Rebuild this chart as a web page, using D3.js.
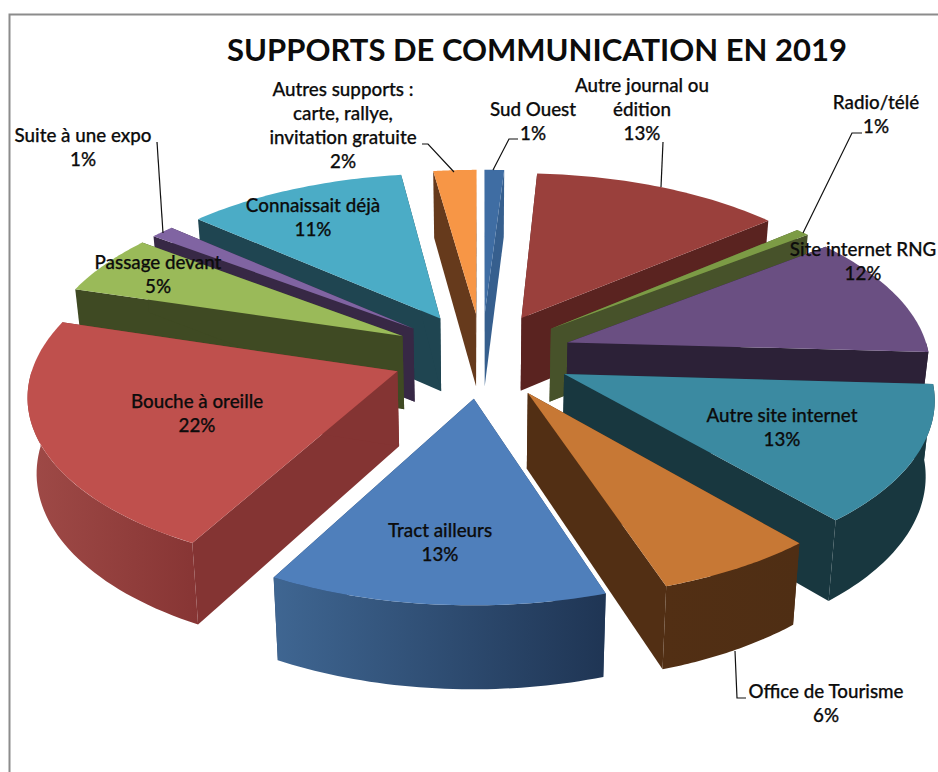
<!DOCTYPE html>
<html>
<head>
<meta charset="utf-8">
<script src="https://cdnjs.cloudflare.com/ajax/libs/d3/7.8.5/d3.min.js"></script>
<style>
  html, body { margin: 0; padding: 0; background: #fff; }
  svg { display: block; }
  text { font-family: Lato, "Open Sans", sans-serif; fill: #0c0c0c; }
</style>
</head>
<body>
<svg width="938" height="772"></svg>
<script>
// data, clockwise from the top
var categories = ['Sud Ouest', 'Autre journal ou édition', 'Radio/télé', 'Site internet RNG',
  'Autre site internet', 'Office de Tourisme', 'Tract ailleurs', 'Bouche à oreille',
  'Passage devant', 'Suite à une expo', 'Connaissait déjà', 'Autres supports']
// share of the circle
var shares = [1, 12.8, 0.7, 11.4, 12.8, 6.2, 13, 21.8, 5.6, 1.2, 11.3, 2.2]
// percentages as printed on the labels
var printed = ['1%', '13%', '1%', '12%', '13%', '6%', '13%', '22%', '5%', '1%', '11%', '2%']

// colours
var topColors = ['#3f6da3', '#9a403c', '#7c9b45', '#6a4f82', '#3b8aa1', '#c77835',
  '#4f7fbb', '#bf504d', '#9aba59', '#8064a2', '#4bacc6', '#f79646']
var sideColors = ['#365f8e', '#5a2320', '#47522a', '#2c2137', '#18373f', '#522f14',
  '#2b4569', '#843433', '#3f4a23', '#372845', '#1f4551', '#663a1c']
var wallLeft = ['#365f8e', '#5a2320', '#47522a', '#2c2137', '#18373f', '#522f14',
  '#3f6692', '#9f4a47', '#3f4a23', '#372845', '#1f4551', '#663a1c']
var wallRight = ['#365f8e', '#5a2320', '#47522a', '#2c2137', '#18373f', '#4f2e14',
  '#1f3554', '#873534', '#3f4a23', '#372845', '#1f4551', '#663a1c']

// label layout: text lines, centre x, first baseline
var labelLines = [
  [['Sud Ouest'], 533, 116],
  [['Autre journal ou', 'édition'], 642, 92],
  [['Radio/télé'], 876, 109],
  [['Site internet RNG'], 863, 256],
  [['Autre site internet'], 782, 422],
  [['Office de Tourisme'], 826, 698],
  [['Tract ailleurs'], 440, 537],
  [['Bouche à oreille'], 197, 408],
  [['Passage devant'], 158, 269],
  [['Suite à une expo'], 83, 142],
  [['Connaissait déjà'], 313, 212],
  [['Autres supports :', 'carte, rallye,', 'invitation gratuite'], 343, 96]
]
var leaders = [
  [[518, 139], [509, 139], [493, 170]],
  [[663, 142], [661, 187]],
  [[862, 133], [852, 133], [803, 233]],
  [[746, 698], [737, 698], [735, 651]],
  [[157, 142], [163, 233]],
  [[422, 144], [428, 144], [454, 172]]
]

var svg = d3.select('svg')

// frame
svg.append('path')
  .attr('d', 'M9.5,772V14.5H938')
  .attr('fill', 'none')
  .attr('stroke', '#8c8c8c')
  .attr('stroke-width', 2)

svg.append('text')
  .attr('x', 537)
  .attr('y', 61)
  .attr('text-anchor', 'middle')
  .attr('font-size', 31)
  .attr('font-weight', 700)
  .text('SUPPORTS DE COMMUNICATION EN 2019')

// pie plane: radius 1 for the exploded outer edge, seen in perspective
var cx = 482
var cy = 355
var scaleX = 452
var scaleY = 213
var persp = 0.15
var radius = 0.8
var explode = 0.2

// z = 0 is the top face, z = 1 the bottom one
function project (u, v, z) {
  var w = 1 - persp * v
  var x = cx + scaleX * u / w
  var y = cy + scaleY * v / w
  if (z) {
    x = cx + (x - cx) * 0.98
    y = y + 67 + (y - 171) * 0.039
  }
  return [x, y]
}

var pie = d3.pie().sort(null).value((d) => d)
var slices = pie(shares).map((d, i) => {
  var mid = (d.startAngle + d.endAngle) / 2
  return {
    i: i,
    a0: d.startAngle,
    a1: d.endAngle,
    ox: Math.sin(mid) * explode,
    oy: -Math.cos(mid) * explode
  }
})

function rim (s, a, z) {
  return project(s.ox + radius * Math.sin(a), s.oy - radius * Math.cos(a), z)
}

function arcPoints (s, a0, a1, z) {
  return d3.range(0, 41).map((k) => rim(s, a0 + (a1 - a0) * k / 40, z))
}

var line = d3.line()

var defs = svg.append('defs')
slices.forEach((s) => {
  var g = defs.append('linearGradient').attr('id', 'wall' + s.i)
  g.append('stop').attr('offset', '0%').attr('stop-color', wallLeft[s.i])
  g.append('stop').attr('offset', '100%').attr('stop-color', wallRight[s.i])
})

// back to front
var order = slices.slice().sort((a, b) => a.oy - b.oy)

var groups = svg.selectAll('g.slice')
  .data(order)
  .enter()
  .append('g')
  .attr('class', 'slice')

groups.each(function (s) {
  var g = d3.select(this)
  var tipTop = project(s.ox, s.oy, 0)
  var tipBottom = project(s.ox, s.oy, 1)

  // the two radial walls
  ;[s.a0, s.a1].forEach((a) => {
    g.append('path')
      .attr('d', line([tipTop, rim(s, a, 0), rim(s, a, 1), tipBottom]) + 'Z')
      .attr('fill', sideColors[s.i])
  })

  // outer wall, only the part that faces the viewer
  var from = Math.max(s.a0, Math.PI / 2)
  var to = Math.min(s.a1, Math.PI * 1.5)
  if (to > from) {
    var pts = arcPoints(s, from, to, 0).concat(arcPoints(s, from, to, 1).reverse())
    g.append('path')
      .attr('d', line(pts) + 'Z')
      .attr('fill', 'url(#wall' + s.i + ')')
  }

  // top face
  g.append('path')
    .attr('d', line([tipTop].concat(arcPoints(s, s.a0, s.a1, 0))) + 'Z')
    .attr('fill', topColors[s.i])
})

// leader lines
svg.selectAll('path.leader')
  .data(leaders)
  .enter()
  .append('path')
  .attr('class', 'leader')
  .attr('d', (d) => line(d))
  .attr('fill', 'none')
  .attr('stroke', '#111')
  .attr('stroke-width', 1.2)

// labels
labelLines.forEach((d, i) => {
  var lines = d[0].concat([printed[i]])
  var t = svg.append('text')
    .attr('text-anchor', 'middle')
    .attr('font-size', 18.8)
    .attr('font-weight', 500)
    .attr('stroke', '#0c0c0c')
    .attr('stroke-width', 0.25)
  lines.forEach((l, k) => {
    t.append('tspan')
      .attr('x', d[1])
      .attr('y', d[2] + k * 24)
      .text(l)
  })
})
</script>
</body>
</html>
